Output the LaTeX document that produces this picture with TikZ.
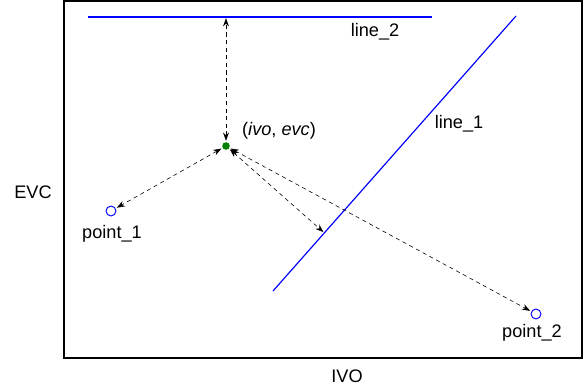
\documentclass[tikz,border=0pt]{standalone}
\usepackage{fontspec}
\setmainfont{Liberation Sans}
\usetikzlibrary{calc,arrows.meta}
\begin{document}
\begin{tikzpicture}[
    x=0.03cm, y=-0.03cm,
    font=\fontsize{15.5}{18}\selectfont,
    frame/.style={draw=black, line width=1pt},
    target/.style={draw=blue, line width=1pt},
    pt/.style={circle, draw=blue, line width=0.8pt, fill=white, minimum size=8.5pt, inner sep=0pt},
    dot/.style={circle, fill=green!50!black, minimum size=6.5pt, inner sep=0pt},
    dist/.style={dash pattern=on 3.5pt off 3pt, line width=0.5pt, {Stealth[length=7pt,width=5pt]}-{Stealth[length=7pt,width=5pt]}, shorten <=1pt, shorten >=1pt}
]
\useasboundingbox (0,0) rectangle (584,391);

% --- Axes ---
\draw [frame] (64,1) rectangle (582,358);
\node (evc) at (33,192) {EVC};
\node (ivo) at (347,376) {IVO};

% --- Lines ---
\coordinate (l2a) at (88,17);
\coordinate (l2b) at (432,17);
\coordinate (l1a) at (273,291);
\coordinate (l1b) at (516,16);
\draw [target] (l2a) -- (l2b);
\draw [target] (l1a) -- (l1b);
\node (line2) at (375,32) {line\_2};
\node (line1) at (459,124) {line\_1};

% --- Points ---
\node (p1) at (111,211) [pt] {};
\node (p2) at (536,314) [pt] {};
\node (lab1) at (112,234) {point\_1};
\node (lab2) at (532,333) {point\_2};
\node (ivoevc) at (226,146) [dot] {};
\node (lab0) at (279,131) {(\textit{ivo}, \textit{evc})};

% --- Distances ---
\coordinate (foot1) at ($(l1a)!(ivoevc)!(l1b)$);
\coordinate (foot2) at (ivoevc |- l2a);
\draw [dist] (ivoevc) -- (foot2);
\draw [dist] (ivoevc) -- (p1);
\draw [dist] (ivoevc) -- (foot1);
\draw [dist] (ivoevc) -- (p2);

\end{tikzpicture}
\end{document}
